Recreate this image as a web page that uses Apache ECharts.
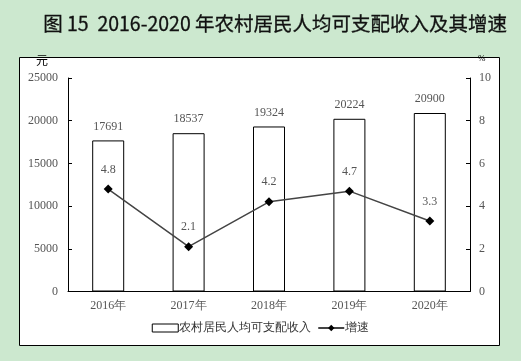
<!DOCTYPE html>
<html><head><meta charset="utf-8">
<script src="https://cdn.jsdelivr.net/npm/echarts@6/dist/echarts.min.js"></script>
<style>html,body{margin:0;padding:0;background:#cce8cf;}#c{width:521px;height:361px;}</style>
</head><body><div id="c"></div>
<script>
const categories = ['2016年','2017年','2018年','2019年','2020年'];
const incomeValues = [17691, 18537, 19324, 20224, 20900];
const growthValues = [4.8, 2.1, 4.2, 4.7, 3.3];
const titleText = '图 15  2016-2020 年农村居民人均可支配收入及其增速';
const incomeName = '农村居民人均可支配收入';
const growthName = '增速';
const leftUnit = '元';
const rightUnit = '%';

const serif = 'Liberation Serif';
const labelColor = '#555';
const chart = echarts.init(document.getElementById('c'), null, {renderer:'canvas'});
chart.setOption({
  backgroundColor: '#cce8cf',
  animation: false,
  graphic: [
    {type:'rect', z:-10, shape:{x:19.5, y:57.5, width:480, height:288}, style:{fill:'#fff', stroke:'#000', lineWidth:1}},
    {type:'text', left:43, top:14, style:{text:titleText, font:'normal 19.5px "Noto Sans CJK SC"', fill:'#111', stroke:'#111', lineWidth:0.3}},
    {type:'text', x:36, y:54, style:{text:leftUnit, font:'12px "Noto Sans CJK SC"', fill:'#000'}},
    {type:'text', x:478, y:54, style:{text:rightUnit, font:'9px "Liberation Serif"', fill:'#000'}}
  ],
  grid: {left:68, right:51, top:78, bottom:69.5},
  legend: {
    bottom: 22, left: 'center', itemWidth: 26, itemHeight: 8, itemGap: 6,
    textStyle: {fontFamily: serif, fontSize: 12, color: '#333', padding:[0,0,0,-4]},
    data: [
      {name: incomeName, icon: 'rect', itemStyle:{color:'#fff', borderColor:'#000', borderWidth:1}},
      {name: growthName}
    ]
  },
  xAxis: {
    type:'category', data: categories, boundaryGap: true,
    axisLine:{lineStyle:{color:'#000', width:1}},
    axisTick:{inside:true, length:4, lineStyle:{color:'#000'}},
    axisLabel:{fontFamily: serif, fontSize:12, color: labelColor, margin:8}
  },
  yAxis: [
    {type:'value', min:0, max:25000, interval:5000,
     axisLine:{show:true, lineStyle:{color:'#000'}},
     axisTick:{show:true, inside:true, length:4, lineStyle:{color:'#000'}},
     splitLine:{show:false},
     axisLabel:{fontFamily: serif, fontSize:12, color: labelColor, margin:10, formatter: v => String(v)}},
    {type:'value', min:0, max:10, interval:2, position:'right',
     axisLine:{show:true, lineStyle:{color:'#000'}},
     axisTick:{show:true, inside:true, length:4, lineStyle:{color:'#000'}},
     splitLine:{show:false},
     axisLabel:{fontFamily: serif, fontSize:12, color: labelColor, margin:9}}
  ],
  series: [
    {name: incomeName, type:'bar', data: incomeValues, barWidth: 32, yAxisIndex:0,
     itemStyle:{color:'#fff', borderColor:'#000', borderWidth:1},
     label:{show:true, position:'top', distance:8, fontFamily: serif, fontSize:12, color: labelColor}},
    {name: growthName, type:'line', data: growthValues, yAxisIndex:1,
     symbol:'diamond', symbolSize:9,
     lineStyle:{color:'#444', width:1.5},
     itemStyle:{color:'#000'},
     label:{show:true, position:'top', distance:9, fontFamily: serif, fontSize:12, color: labelColor}}
  ]
});
</script></body></html>
